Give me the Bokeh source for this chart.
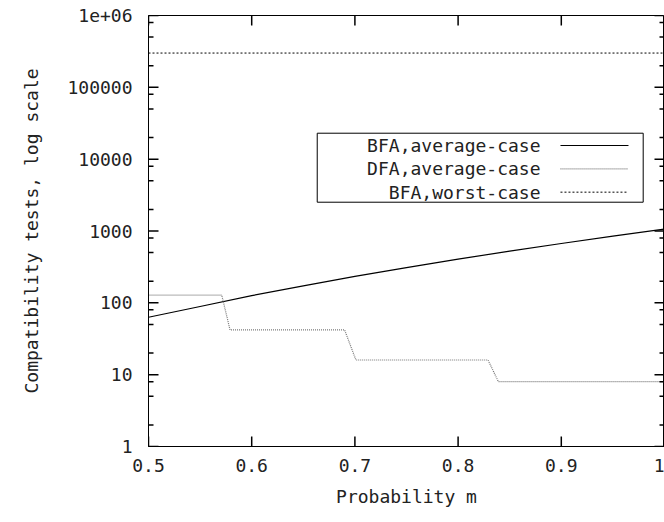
import math
from bokeh.plotting import figure
from bokeh.models import FixedTicker, BoxAnnotation, Label, Arrow
from bokeh.embed import file_html
from bokeh.resources import INLINE

# ---- data ----
m_avg = [0.50, 0.55, 0.60, 0.65, 0.70, 0.75, 0.80, 0.85, 0.90, 0.95, 1.00]
bfa_avg = [63, 89, 126, 172, 233, 309, 405, 525, 670, 849, 1062]

m_dfa = [0.50, 0.571, 0.579, 0.690, 0.701, 0.829, 0.839, 1.00]
dfa_avg = [128, 128, 42, 42, 16, 16, 8, 8]

m_worst = [0.50, 1.00]
bfa_worst = [300000, 300000]

x_ticks = [0.5, 0.6, 0.7, 0.8, 0.9, 1.0]
x_tick_labels = ["0.5", "0.6", "0.7", "0.8", "0.9", "1"]
y_ticks = [1, 10, 100, 1000, 10000, 100000, 1000000]
y_tick_labels = ["1", "10", "100", "1000", "10000", "100000", "1e+06"]
y_minor = [f * d for d in [1, 10, 100, 1000, 10000, 100000] for f in (2, 5, 8)]

series_names = ["BFA,average-case", "DFA,average-case", "BFA,worst-case"]

FONT = "DejaVu Sans Mono"
FS = "18px"
TXT = "#222222"
X0, X1 = 0.5, 1.0
Y0, Y1 = 1, 1e6
FRAME_W, FRAME_H = 516, 431

p = figure(width=664, height=522, y_axis_type="log",
           x_range=(X0, X1), y_range=(Y0, Y1),
           output_backend="svg", toolbar_location=None,
           min_border_left=148, min_border_right=0,
           min_border_top=15, min_border_bottom=76)
p.xgrid.visible = False
p.ygrid.visible = False
p.outline_line_color = "black"
p.outline_line_width = 1
p.background_fill_color = "white"
p.border_fill_color = "white"

# lines
p.line(m_avg, bfa_avg, line_color="black", line_width=1.2)
p.line(m_dfa, dfa_avg, line_color="#777777", line_width=1.2, line_dash="1 1")
p.line(m_worst, bfa_worst, line_color="black", line_width=1, line_dash="2 2")

# gnuplot-style inward ticks on all four sides (tick length given in pixels)
def dx(px):
    return px * (X1 - X0) / FRAME_W

def ymul(px):
    return 10 ** (px * math.log10(Y1 / Y0) / FRAME_H)

xs, ys = [], []
for t in y_ticks:
    xs += [[X0, X0 + dx(10)], [X1 - dx(10), X1]]
    ys += [[t, t], [t, t]]
for t in y_minor:
    xs += [[X0, X0 + dx(5)], [X1 - dx(5), X1]]
    ys += [[t, t], [t, t]]
for t in x_ticks:
    xs += [[t, t], [t, t]]
    ys += [[Y0, Y0 * ymul(10)], [Y1 / ymul(10), Y1]]
p.multi_line(xs=xs, ys=ys, line_color="black", line_width=1.5)

def style_axis(ax):
    ax.axis_line_color = "black"
    ax.major_tick_in = 0
    ax.major_tick_out = 0
    ax.minor_tick_in = 0
    ax.minor_tick_out = 0
    ax.major_label_text_font = FONT
    ax.major_label_text_font_size = FS
    ax.major_label_text_color = TXT
    ax.axis_label_text_font = FONT
    ax.axis_label_text_font_size = FS
    ax.axis_label_text_font_style = "normal"
    ax.axis_label_text_color = TXT

xa = p.xaxis[0]
xa.ticker = FixedTicker(ticks=x_ticks, minor_ticks=[])
xa.major_label_overrides = {t: l for t, l in zip(x_ticks, x_tick_labels)}
xa.axis_label = "Probability m"
style_axis(xa)
xa.major_label_standoff = 12
xa.axis_label_standoff = 11

ya = p.yaxis[0]
ya.ticker = FixedTicker(ticks=y_ticks, minor_ticks=y_minor)
ya.major_label_overrides = {t: l for t, l in zip(y_ticks, y_tick_labels)}
ya.axis_label = "Compatibility tests, log scale"
style_axis(ya)
ya.major_label_standoff = 16
ya.axis_label_standoff = 22

# manual legend (gnuplot style: label right-aligned, sample on the right)
def fx(f):
    return X0 + f * (X1 - X0)

def fy(f):
    return 10 ** (6 * f)

box = BoxAnnotation(left=fx(0.327), right=fx(0.9587), bottom=fy(0.5668), top=fy(0.7269),
                    fill_color="white", fill_alpha=1.0, line_color="black",
                    line_alpha=1.0, line_width=1)
p.add_layout(box)
rows = [0.6984, 0.6443, 0.5901]
styles = [dict(line_color="black", line_width=1.2, line_dash="solid"),
          dict(line_color="#777777", line_width=1.2, line_dash="1 1"),
          dict(line_color="black", line_width=1, line_dash="2 2")]
for name, r, st in zip(series_names, rows, styles):
    p.add_layout(Label(x=fx(0.7597), y=fy(r), text=name, text_align="right",
                       text_baseline="middle", text_font=FONT, text_font_size=FS,
                       text_color=TXT))
    p.add_layout(Arrow(end=None, x_start=fx(0.7984), x_end=fx(0.9302),
                       y_start=fy(r), y_end=fy(r), **st))

open("out.html", "w").write(file_html(p, INLINE))
